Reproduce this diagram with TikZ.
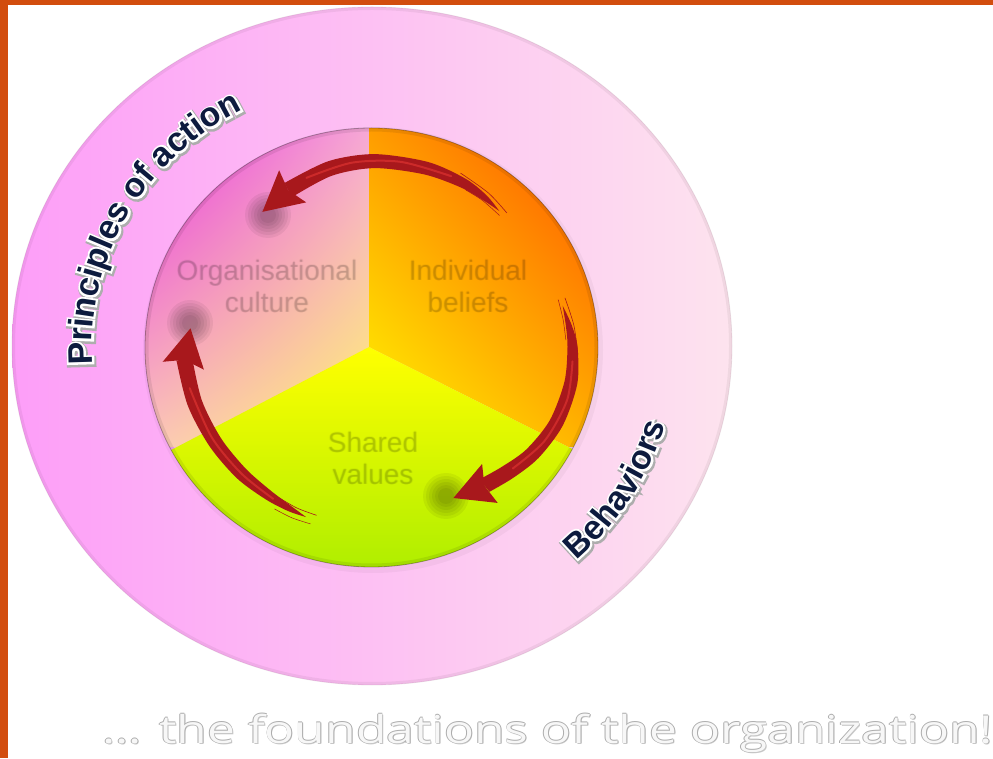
\documentclass[tikz,border=0pt]{standalone}
\usepackage{fontspec}
\setmainfont{Liberation Sans}
\newfontfamily\ringfont{Liberation Sans Bold}
\newfontfamily\ringhalo[FakeBold=12]{Liberation Sans Bold}
\newfontfamily\ringedge[FakeBold=18]{Liberation Sans Bold}
\newfontfamily\tagfont{Open Sans}
\usetikzlibrary{calc,decorations.text,shadings}

\definecolor{frameorange}{HTML}{D24D0E}
\definecolor{ringL}{HTML}{FD9EF8}
\definecolor{ringM}{HTML}{FEBAFA}
\definecolor{ringR}{HTML}{FDE3EE}
\definecolor{ocA}{HTML}{E838E0}
\definecolor{ocB}{HTML}{F6A8D6}
\definecolor{ocC}{HTML}{FBC8B8}
\definecolor{ocD}{HTML}{FFF46C}
\definecolor{ibA}{HTML}{FF9C00}
\definecolor{ibB}{HTML}{FF5000}
\definecolor{ibC}{HTML}{FFF800}
\definecolor{ibD}{HTML}{FFB000}
\definecolor{svTop}{HTML}{FFFF00}
\definecolor{svBot}{HTML}{B0EE00}
\definecolor{arrowred}{HTML}{A8181C}
\definecolor{arrowhi}{HTML}{CC2A2A}
\definecolor{navy}{HTML}{0D1B3E}

\newcommand\tagline{\scalebox{1.292}[1]{\tagfont\fontsize{38.5}{44}\selectfont ... the foundations of the organization!}}
\newcommand\ringsize{\fontsize{34}{40}\selectfont}

% arrow head: base coordinate, tip coordinate
\newcommand\headat[2]{%
  \coordinate (k#1) at ($(#1)!-6pt!(#2)$);
  \fill[arrowred] (#2) -- ($(k#1)!21pt!90:(#2)$) -- (#1) -- ($(k#1)!21pt!-90:(#2)$) -- cycle;}

% soft shadow spot
\newcommand\spot[1]{%
  \foreach \rr in {23,20,17,14,11,8}{\fill[black,opacity=.055] (#1) circle (\rr);}}

\begin{document}
\begin{tikzpicture}[x=1pt,y=1pt,
  sectorlabel/.style={font=\fontsize{28}{32}\selectfont, align=center, text=black, inner sep=0},
  tagstyle/.style={anchor=base west, inner sep=0}]
\useasboundingbox (0,0) rectangle (993,758);
\clip (0,0) rectangle (993,758);
\fill[white] (0,0) rectangle (993,758);
\fill[frameorange] (0,753) rectangle (993,758);
\fill[frameorange] (0,0) rectangle (8,758);

% outer ring
\shade[left color=ringL, middle color=ringM, right color=ringR] (372,412) ellipse [x radius=360, y radius=339];
\begin{scope}
  \clip (372,412) ellipse [x radius=360, y radius=339];
  \draw[black, opacity=.05, line width=6] (372,412) ellipse [x radius=360, y radius=339];
\end{scope}
\draw[black!60!magenta, opacity=.12, line width=.8] (372,412) ellipse [x radius=360, y radius=339];

% soft shadow of the disc on the ring
\fill[black, opacity=.035] (373,408) ellipse [x radius=230, y radius=223];

% three sectors of the disc
\begin{scope}
  \clip (371.5,410.5) ellipse [x radius=226.5, y radius=219.5];
  \begin{scope}
    \clip (369,411) -- (369,700) -- (100,700) -- (100,271) -- cycle;
    \shade[upper left=ocA, upper right=ocB, lower left=ocC, lower right=ocD] (145,311) rectangle (369,631);
  \end{scope}
  \begin{scope}
    \clip (369,411) -- (369,700) -- (650,700) -- (650,270) -- cycle;
    \shade[upper left=ibA, upper right=ibB, lower left=ibC, lower right=ibD] (369,311) rectangle (598,631);
  \end{scope}
  \begin{scope}
    \clip (369,411) -- (100,271) -- (100,150) -- (650,150) -- (650,270) -- cycle;
    \shade[top color=svTop, bottom color=svBot] (145,191) rectangle (598,411);
  \end{scope}
  \draw[black, opacity=.08, line width=7] (371.5,410.5) ellipse [x radius=226.5, y radius=219.5];
\end{scope}
\draw[black, opacity=.3, line width=.8] (371.5,410.5) ellipse [x radius=226.5, y radius=219.5];

% sector labels, faint and slightly soft
\foreach \dx/\dy [count=\i] in {-.9/0, .9/0, 0/.9, 0/-.9}{
  \node[sectorlabel, text opacity=.04] (ocs\i) at ({267+\dx},{472+\dy}) {Organisational\\culture};
  \node[sectorlabel, text opacity=.04] (ibs\i) at ({468+\dx},{472+\dy}) {Individual\\beliefs};
  \node[sectorlabel, text opacity=.04] (svs\i) at ({373+\dx},{300+\dy}) {Shared\\values};
}
\node[sectorlabel, text opacity=.07] (oc) at (267,472) {Organisational\\culture};
\node[sectorlabel, text opacity=.07] (ib) at (468,472) {Individual\\beliefs};
\node[sectorlabel, text opacity=.07] (sv) at (373,300) {Shared\\values};

% shadows under the arrow heads
\spot{268,543}
\spot{190,435}
\spot{446,262}

% arrows
\begin{scope}[shift={(368,411)}]
  % top: from Individual beliefs to Organisational culture
  \fill[arrowred] plot[smooth] coordinates {(46:189) (52:192.5) (60:194.5) (72:194.5) (88:193) (102:190) (117:184)}
    -- plot[smooth] coordinates {(117:168) (102:175) (88:179) (72:181.5) (60:184.5) (52:186.5) (46:189)} -- cycle;
  \draw[arrowhi, line width=2, line cap=round] plot[smooth] coordinates {(64:190) (80:188) (95:185) (110:180)};
  \coordinate (ba) at (117:176); \coordinate (ta) at (128:171.5);
  \headat{ba}{ta}
  % right: from Individual beliefs to Shared values
  \fill[arrowred] plot[smooth] coordinates {(12:199) (6:205) (0:209.5) (-10:212.5) (-22:210) (-33:203.5) (-42:195.5) (-50:189)}
    -- plot[smooth] coordinates {(-50:173) (-42:179.5) (-33:188.5) (-22:196) (-10:199.5) (0:199.5) (6:199) (12:199)} -- cycle;
  \draw[arrowhi, line width=2, line cap=round] plot[smooth] coordinates {(-4:205) (-15:206) (-28:200) (-40:189)};
  \coordinate (bb) at (-50:181); \coordinate (tb) at (-60.5:173.5);
  \headat{bb}{tb}
  % left: from Shared values to Organisational culture
  \fill[arrowred] plot[smooth] coordinates {(250:181) (244:182.5) (236:183.5) (225:185.5) (212:187) (198:189.5) (184:192)}
    -- plot[smooth] coordinates {(184:176) (198:174.5) (212:173) (225:172.5) (236:173.5) (244:176.5) (250:181)} -- cycle;
  \draw[arrowhi, line width=2, line cap=round] plot[smooth] coordinates {(238:179) (225:179) (210:180.5) (193:183)};
  \coordinate (bc) at (184:184); \coordinate (tc) at (174:178.5);
  \headat{bc}{tc}
  % brush strokes at the tails
  \draw[arrowred, line width=.6] plot[smooth] coordinates {(44:193) (52:195.5) (62:197)};
  \draw[arrowred, line width=.5] plot[smooth] coordinates {(45:186) (52:186) (58:185)};
  \draw[arrowred, line width=.6] plot[smooth] coordinates {(14:203) (6:207) (-2:210)};
  \draw[arrowred, line width=.5] plot[smooth] coordinates {(14:196) (8:197) (2:198)};
  \draw[arrowred, line width=.6] plot[smooth] coordinates {(253:176) (246:176) (238:175)};
  \draw[arrowred, line width=.5] plot[smooth] coordinates {(252:186) (246:187) (240:187)};
\end{scope}

% curved ring captions
\begin{scope}[shift={(1,-1.5)}]
  \path[decorate, decoration={text along path, text align=left,
    text={|\ringedge\ringsize\color{black!32}|Principles of action}}]
    (372,412) ++(184:280 and 266) arc[start angle=184, end angle=95, x radius=280, y radius=266];
  \path[decorate, decoration={text along path, text align=left,
    text={|\ringedge\ringsize\color{black!32}|Behaviors}}]
    (372,412) ++(-48:305 and 288) arc[start angle=-48, end angle=0, x radius=305, y radius=288];
\end{scope}
\path[decorate, decoration={text along path, text align=left,
  text={|\ringhalo\ringsize\color{white}|Principles of action}}]
  (372,412) ++(184:280 and 266) arc[start angle=184, end angle=95, x radius=280, y radius=266];
\path[decorate, decoration={text along path, text align=left,
  text={|\ringfont\ringsize\color{navy}|Principles of action}}]
  (372,412) ++(184:280 and 266) arc[start angle=184, end angle=95, x radius=280, y radius=266];
\path[decorate, decoration={text along path, text align=left,
  text={|\ringhalo\ringsize\color{white}|Behaviors}}]
  (372,412) ++(-48:305 and 288) arc[start angle=-48, end angle=0, x radius=305, y radius=288];
\path[decorate, decoration={text along path, text align=left,
  text={|\ringfont\ringsize\color{navy}|Behaviors}}]
  (372,412) ++(-48:305 and 288) arc[start angle=-48, end angle=0, x radius=305, y radius=288];

% embossed tag line
\node[tagstyle, text=black!22] (tagshadow) at (103,13.5) {\tagline};
\foreach \dx/\dy [count=\i] in {-.7/0, .7/0, 0/-.7, 0/.7}
  \node[tagstyle, text=black!32] (tagedge\i) at ({102+\dx},{15+\dy}) {\tagline};
\node[tagstyle, text=black!3] (tag) at (102,15) {\tagline};
\end{tikzpicture}
\end{document}
